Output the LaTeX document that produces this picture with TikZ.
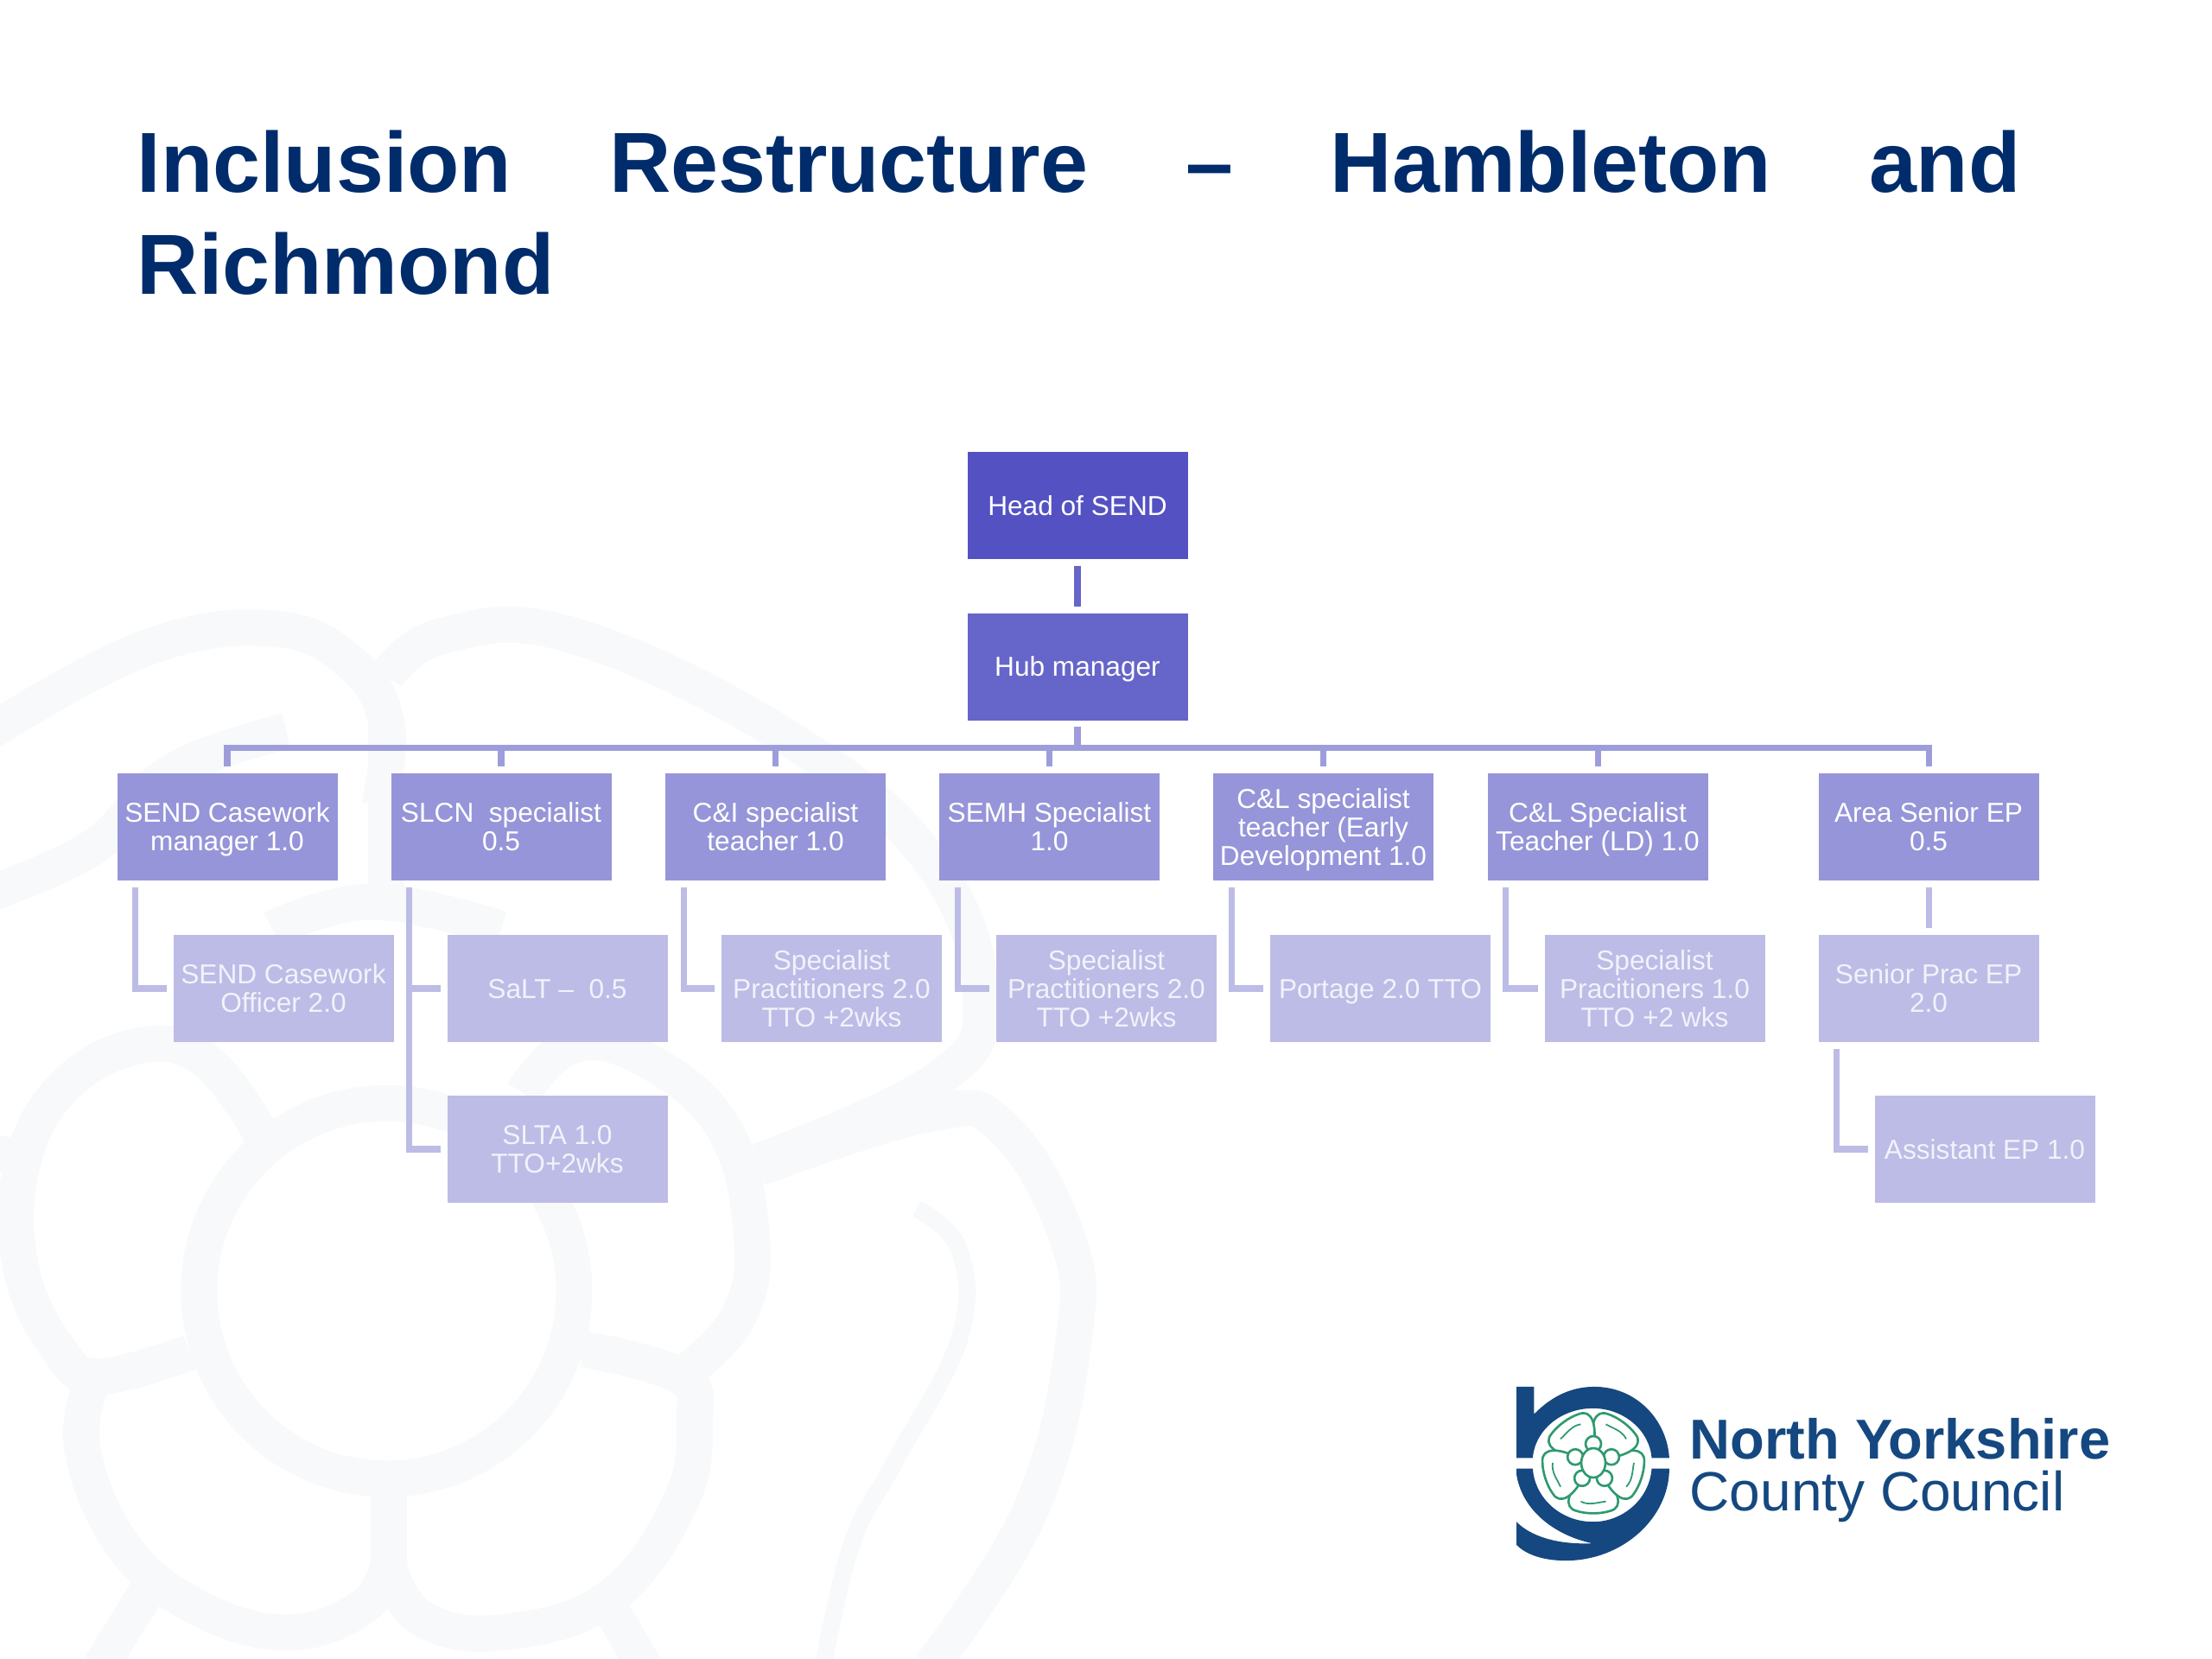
\documentclass[tikz,border=0pt]{standalone}
\usepackage{fontspec}
\setmainfont{Liberation Sans}
\definecolor{titleblue}{RGB}{0,44,108}
\definecolor{headfill}{RGB}{84,82,194}
\definecolor{hubfill}{RGB}{102,101,201}
\definecolor{postfill}{RGB}{150,149,217}
\definecolor{staffill}{RGB}{189,188,230}
\definecolor{buscol}{RGB}{158,157,219}
\definecolor{stafftext}{RGB}{242,242,251}
\definecolor{rosegrey}{RGB}{247,249,250}
\definecolor{logoblue}{RGB}{21,72,128}
\definecolor{logogreen}{RGB}{46,154,110}
\tikzset{
  orgbox/.style={minimum width=2.55cm,minimum height=1.24cm,inner sep=0pt,align=center,
    text depth=0pt,font=\fontsize{9}{9.4}\selectfont},
  headbox/.style={orgbox,fill=headfill,text=white},
  hubbox/.style={orgbox,fill=hubfill,text=white},
  postbox/.style={orgbox,fill=postfill,text=white},
  staffbox/.style={orgbox,fill=staffill,text=stafftext},
  link/.style={line width=2pt,shorten <=0.07cm,shorten >=0.07cm},
  rosepen/.style={draw=rosegrey,line width=0.42cm},
  petalpen/.style={draw=logogreen,line width=0.75pt,fill=white}
}
\begin{document}
\begin{tikzpicture}
  \useasboundingbox (0,0) rectangle (25.6,-19.2);
  \begin{scope}
    \clip (0,0) rectangle (25.6,-19.2);
    \begin{scope}[shift={(0cm,-6.8cm)},x=0.00829cm,y=-0.0079cm,rosepen,smooth]
      \draw (540,1030) [x radius=262,y radius=275] circle;
      \draw plot[tension=.7] coordinates {(365,800)(290,695)(200,670)(90,730)(30,850)(30,1000)(85,1120)(140,1155)(265,1120)};
      \draw plot[tension=.7] coordinates {(130,1160)(115,1260)(170,1400)(270,1490)(400,1530)(510,1490)(545,1420)};
      \draw (543,1320) -- (543,1480);
      \draw plot[tension=.7] coordinates {(545,1440)(590,1510)(700,1530)(850,1480)(950,1340)(970,1220)(950,1155)(815,1115)};
      \draw plot[tension=.7] coordinates {(950,1155)(1030,1070)(1050,950)(1010,790)(900,690)(800,670)(730,740)};
      \draw (-20,825) -- (30,835);
      \draw (140,1580) -- (205,1470);
      \draw (900,1580) -- (850,1490);
      \draw plot[tension=.7] coordinates {(-20,215)(200,90)(380,60)(490,110)(540,200)(530,320)};
      \draw plot[tension=.7] coordinates {(540,130)(620,70)(800,70)(1100,220)(1300,400)(1370,600)(1310,720)(1060,840)};
      \draw plot[tension=.7] coordinates {(1060,850)(1300,770)(1400,790)(1490,950)(1500,1100)(1440,1350)(1300,1580)};
      \draw plot[tension=.7] coordinates {(-20,450)(130,380)(240,270)(400,210)};
      \draw plot[tension=.7] coordinates {(380,500)(520,460)(700,500)};
      \draw (540,200) -- (540,470);
      \draw[line width=0.2cm] plot[tension=.7] coordinates {(1280,910)(1340,970)(1340,1100)(1250,1280)(1190,1400)(1150,1580)};
    \end{scope}
  \end{scope}
  \node[anchor=north west,inner sep=0pt,text width=21.8cm,align=justify,text=titleblue,
    font=\fontsize{28.1}{33.7}\selectfont\bfseries] (title) at (1.58,-1.5)
    {Inclusion Restructure – Hambleton and\linebreak Richmond};
  \draw
    (12.47,-5.85) node[headbox] (head){Head of SEND}
    (12.47,-7.715) node[hubbox] (hub){Hub manager}
    (2.63,-9.57) node[postbox] (sendmgr){SEND Casework\\manager 1.0}
    (5.80,-9.57) node[postbox] (slcn){SLCN\ \ specialist\\0.5}
    (8.975,-9.57) node[postbox] (candi){C\&I specialist\\teacher 1.0}
    (12.145,-9.57) node[postbox] (semh){SEMH Specialist\\1.0}
    (15.315,-9.57) node[postbox] (candlearly){C\&L specialist\\teacher (Early\\Development 1.0}
    (18.49,-9.57) node[postbox] (candlld){C\&L Specialist\\Teacher (LD) 1.0}
    (22.32,-9.57) node[postbox] (areaep){Area Senior EP\\0.5}
    (3.28,-11.44) node[staffbox] (sendoff){SEND Casework\\Officer 2.0}
    (6.45,-11.44) node[staffbox] (salt){SaLT –\ \ 0.5}
    (6.45,-13.30) node[staffbox] (slta){SLTA 1.0\\TTO+2wks}
    (9.625,-11.44) node[staffbox] (pracci){Specialist\\Practitioners 2.0\\TTO +2wks}
    (12.805,-11.44) node[staffbox] (pracsemh){Specialist\\Practitioners 2.0\\TTO +2wks}
    (15.975,-11.44) node[staffbox] (portage){Portage 2.0 TTO}
    (19.15,-11.44) node[staffbox] (pracld){Specialist\\Pracitioners 1.0\\TTO +2 wks}
    (22.32,-11.44) node[staffbox] (seniorprac){Senior Prac EP\\2.0}
    (22.97,-13.30) node[staffbox] (assistep){Assistant EP 1.0};
  \draw[link,hubfill] (head) to (hub);
  \begin{scope}[link,draw=buscol]
    \draw (hub.south) -- ++(0,-0.31) -| (sendmgr.north);
    \draw (hub.south) -- ++(0,-0.31) -| (slcn.north);
    \draw (hub.south) -- ++(0,-0.31) -| (candi.north);
    \draw (hub.south) -- ++(0,-0.31) -| (semh.north);
    \draw (hub.south) -- ++(0,-0.31) -| (candlearly.north);
    \draw (hub.south) -- ++(0,-0.31) -| (candlld.north);
    \draw (hub.south) -- ++(0,-0.31) -| (areaep.north);
  \end{scope}
  \begin{scope}[link,draw=staffill]
    \draw ([xshift=0.22cm]sendmgr.south west) |- (sendoff.west);
    \draw ([xshift=0.22cm]slcn.south west) |- (salt.west);
    \draw ([xshift=0.22cm]slcn.south west) |- (slta.west);
    \draw ([xshift=0.22cm]candi.south west) |- (pracci.west);
    \draw ([xshift=0.22cm]semh.south west) |- (pracsemh.west);
    \draw ([xshift=0.22cm]candlearly.south west) |- (portage.west);
    \draw ([xshift=0.22cm]candlld.south west) |- (pracld.west);
    \draw (areaep) to (seniorprac);
    \draw ([xshift=0.22cm]seniorprac.south west) |- (assistep.west);
  \end{scope}
  \begin{scope}[shift={(17cm,-15.6cm)},x=0.0051cm,y=-0.00333cm]
    \fill[logoblue] (108,135) -- (148,135) -- (148,230) .. controls (190,165) and (235,135) .. (285,135)
      .. controls (380,135) and (450,250) .. (455,383) -- (415,383)
      .. controls (410,285) and (350,210) .. (282,210) .. controls (210,210) and (150,285) .. (145,383)
      -- (108,383) -- cycle;
    \fill[logoblue] (108,420) -- (145,420) .. controls (150,525) and (210,605) .. (282,605)
      .. controls (350,605) and (410,525) .. (415,420) -- (455,420)
      .. controls (455,590) and (350,740) .. (220,740) .. controls (170,740) and (130,720) .. (108,685)
      -- (108,605) .. controls (140,655) and (200,685) .. (280,680)
      .. controls (190,650) and (120,560) .. (108,440) -- cycle;
  \end{scope}
  \begin{scope}[shift={(18.44cm,-16.93cm)},x=0.01cm,y=0.01cm]
    \foreach \ang in {-90,-18,54,126,198}{
      \draw[petalpen] (\ang-36:18) .. controls (\ang-42:45) and (\ang-34:62) .. (\ang-20:59)
        .. controls (\ang-8:60) and (\ang+8:60) .. (\ang+20:59)
        .. controls (\ang+34:62) and (\ang+42:45) .. (\ang+36:18);
      \draw[logogreen,line width=0.5pt] (\ang-18:47) .. controls (\ang-6:50) and (\ang+6:46) .. (\ang+18:47);
    }
    \foreach \ang in {-54,18,90,162,234}{
      \draw[petalpen] (\ang:22) circle (9);
    }
    \draw[petalpen] (0,0) [x radius=14,y radius=17] circle;
  \end{scope}
  \node[anchor=base west,inner sep=0pt,text=logoblue,font=\fontsize{18.5}{20}\selectfont\bfseries] (logotop) at (19.55,-16.88) {North Yorkshire};
  \node[anchor=base west,inner sep=0pt,text=logoblue,font=\fontsize{18.2}{20}\selectfont] (logobottom) at (19.55,-17.48) {County Council};
\end{tikzpicture}
\end{document}
